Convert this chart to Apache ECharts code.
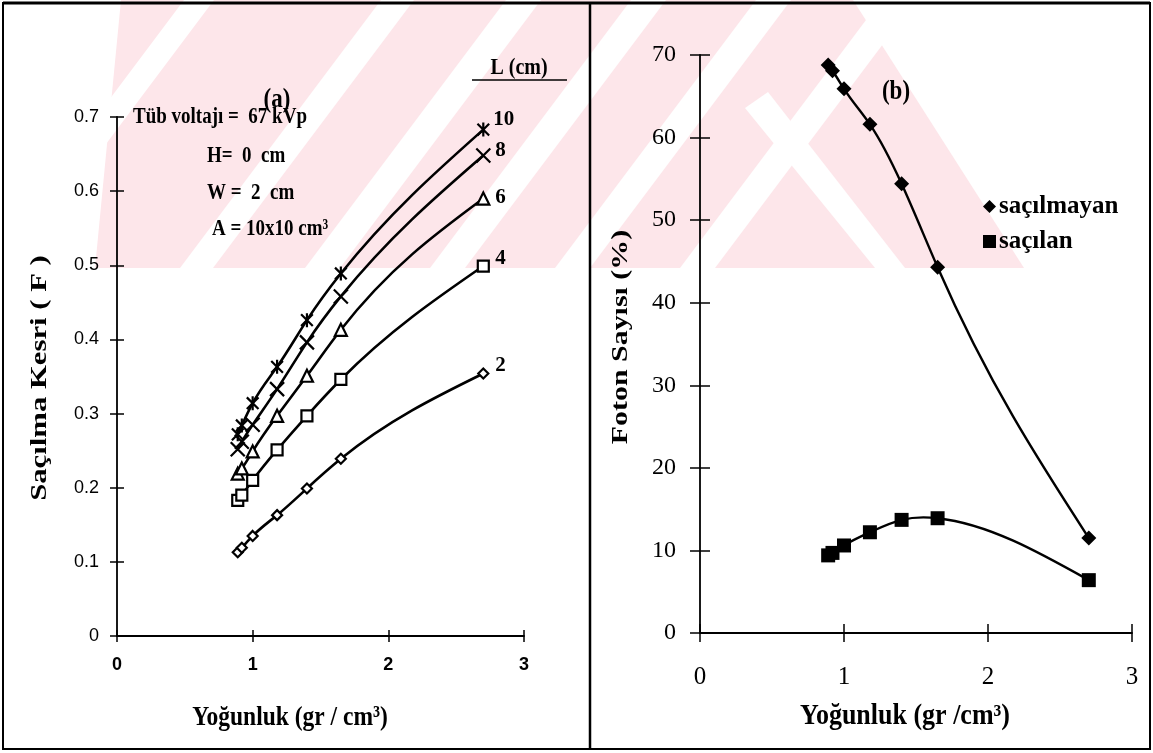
<!DOCTYPE html>
<html>
<head>
<meta charset="utf-8">
<script src="https://cdn.jsdelivr.net/npm/echarts@6/dist/echarts.min.js"></script>
<style>
  html, body { margin: 0; padding: 0; background: #fff; }
  #chart { width: 1153px; height: 753px; }
</style>
</head>
<body>
<div id="chart"></div>
<script>
// yoğunluk (gr/cm3) - iki grafikte de aynı
const density = [0.89, 0.92, 1.0, 1.18, 1.4, 1.65, 2.7];

// (a) saçılma kesri F, her L (cm) için
const F_L2  = [0.113, 0.119, 0.135, 0.163, 0.199, 0.239, 0.354];
const F_L4  = [0.183, 0.190, 0.210, 0.251, 0.297, 0.346, 0.499];
const F_L6  = [0.219, 0.226, 0.249, 0.297, 0.351, 0.413, 0.590];
const F_L8  = [0.252, 0.262, 0.285, 0.333, 0.396, 0.458, 0.648];
const F_L10 = [0.272, 0.284, 0.314, 0.363, 0.426, 0.489, 0.683];

// (b) foton sayısı (%)
const sacilmayan = [68.8, 68.1, 65.9, 61.6, 54.4, 44.3, 11.5];
const sacilan    = [9.4, 9.7, 10.6, 12.2, 13.7, 13.9, 6.4];

// eksen tikleri
const xTicks  = [0, 1, 2, 3];
const yTicksA = [0, 0.1, 0.2, 0.3, 0.4, 0.5, 0.6, 0.7];
const yTicksB = [0, 10, 20, 30, 40, 50, 60, 70];

const serif = 'Liberation Serif';
const sans = 'Liberation Sans';

const pairs = (ys) => density.map((x, i) => [x, ys[i]]);

const chart = echarts.init(document.getElementById('chart'));

const gridA = { left: 117, top: 117, width: 407, height: 519 };
const gridB = { left: 700, top: 55, width: 432, height: 578 };

function xAx(gridIndex, inside, lab, len) {
  return {
    type: 'value', gridIndex: gridIndex,
    min: xTicks[0], max: xTicks[xTicks.length - 1], interval: 1,
    axisLine: { show: !inside, onZero: false, lineStyle: { color: '#000', width: 1.8 } },
    axisTick: { show: true, inside: inside, length: len, lineStyle: { color: '#000', width: 1.5 } },
    axisLabel: inside ? { show: false } : lab,
    splitLine: { show: false }
  };
}
function yAx(gridIndex, ticks, inside, lab, len) {
  return {
    type: 'value', gridIndex: gridIndex, position: 'left',
    min: ticks[0], max: ticks[ticks.length - 1], interval: ticks[1] - ticks[0],
    axisLine: { show: !inside, onZero: false, lineStyle: { color: '#000', width: 1.8 } },
    axisTick: { show: true, inside: inside, length: len, lineStyle: { color: '#000', width: 1.5 } },
    axisLabel: inside ? { show: false } : lab,
    splitLine: { show: false }
  };
}

const labA_x = { color: '#000', fontFamily: sans, fontWeight: 'bold', fontSize: 18, margin: 20 };
const labA_y = { color: '#000', fontFamily: sans, fontSize: 18, margin: 18 };
const labB_x = { color: '#000', fontFamily: serif, fontSize: 25, margin: 32 };
const labB_y = { color: '#000', fontFamily: serif, fontSize: 24, margin: 24 };

// doğal kübik spline: i. parça için bezier kontrol noktaları (piksel uzayında)
function splineSeg(pts, i) {
  const n = pts.length;
  const h = [], M = new Array(n).fill(0);
  for (let k = 0; k < n - 1; k++) h[k] = pts[k + 1][0] - pts[k][0];
  const b = [], c = [], d = [];
  for (let k = 1; k < n - 1; k++) {
    b[k] = 2 * (h[k - 1] + h[k]);
    c[k] = h[k];
    d[k] = 6 * ((pts[k + 1][1] - pts[k][1]) / h[k] - (pts[k][1] - pts[k - 1][1]) / h[k - 1]);
  }
  for (let k = 2; k < n - 1; k++) {
    const w = h[k - 1] / b[k - 1];
    b[k] -= w * c[k - 1];
    d[k] -= w * d[k - 1];
  }
  for (let k = n - 2; k >= 1; k--) M[k] = (d[k] - c[k] * M[k + 1]) / b[k];
  const hi = h[i];
  const s = (pts[i + 1][1] - pts[i][1]) / hi;
  const d0 = s - hi * (2 * M[i] + M[i + 1]) / 6;
  const d1 = s + hi * (M[i] + 2 * M[i + 1]) / 6;
  return {
    x1: pts[i][0], y1: pts[i][1], x2: pts[i + 1][0], y2: pts[i + 1][1],
    cpx1: pts[i][0] + hi / 3, cpy1: pts[i][1] + d0 * hi / 3,
    cpx2: pts[i + 1][0] - hi / 3, cpy2: pts[i + 1][1] - d1 * hi / 3
  };
}

function curveSeries(ys, axisIndex, width) {
  return {
    type: 'custom', xAxisIndex: axisIndex, yAxisIndex: axisIndex,
    data: pairs(ys), encode: { x: 0, y: 1 }, silent: true, z: 3,
    renderItem: function (params, api) {
      const i = params.dataIndex;
      if (i >= density.length - 1) return null;
      const pts = density.map((x, k) => api.coord([x, ys[k]]));
      return { type: 'bezierCurve', shape: splineSeg(pts, i),
               style: { stroke: '#000', lineWidth: width, fill: null } };
    }
  };
}

// sembol şekilleri
const crossPath = 'path://M0,0L10,10M10,0L0,10';
const starPath = 'path://M0,0L10,10M10,0L0,10M5,-1L5,11';

const curveA = [
  { name: '2',  data: F_L2,  symbol: 'diamond',  size: 10, off: [4, -8] },
  { name: '4',  data: F_L4,  symbol: 'rect',     size: 11, off: [4, -7] },
  { name: '6',  data: F_L6,  symbol: 'triangle', size: 12, off: [4, -1] },
  { name: '8',  data: F_L8,  symbol: crossPath,  size: 14, off: [4, -5] },
  { name: '10', data: F_L10, symbol: starPath,   size: 14, off: [2, -10] }
];

const seriesA = [];
curveA.forEach(c => {
  seriesA.push(curveSeries(c.data, 0, 2.6));
  seriesA.push({
    type: 'line', name: c.name, xAxisIndex: 0, yAxisIndex: 0,
    data: pairs(c.data),
    symbol: c.symbol, symbolSize: c.size, symbolKeepAspect: true, showAllSymbol: true,
    lineStyle: { opacity: 0 },
    itemStyle: { color: '#fff', borderColor: '#000', borderWidth: 2.2 },
    endLabel: { show: true, formatter: c.name, offset: c.off, color: '#000',
                fontFamily: serif, fontWeight: 'bold', fontSize: 21 },
    z: 5
  });
});

const curveB = [
  { name: 'saçılmayan', data: sacilmayan, symbol: 'diamond', size: 15 },
  { name: 'saçılan', data: sacilan, symbol: 'rect', size: 14 }
];
const seriesB = [];
curveB.forEach(s => {
  seriesB.push(curveSeries(s.data, 2, 2.4));
  seriesB.push({
    type: 'line', name: s.name, xAxisIndex: 2, yAxisIndex: 2,
    data: pairs(s.data),
    symbol: s.symbol, symbolSize: s.size, showAllSymbol: true,
    lineStyle: { opacity: 0 },
    itemStyle: { color: '#000' },
    z: 5
  });
});

// arka plandaki soluk filigran (üst yarı, çapraz şeritli)
const pink = '#fde6ea';
const wmBottom = 268;
const pinkAreas = [
  [[121, 0], [590, 0], [590, wmBottom], [95, wmBottom]],
  [[590, 0], [853, 0], [1024, wmBottom], [590, wmBottom]]
];
// beyaz şeritler: alt kenardaki x başlangıcı ve genişlik
const stripeStarts = [-17, 180, 305, 430, 555, 680];
const stripeWidths = [30, 33, 35, 35, 35, 35];
const lean = 0.75;

const graphic = [];
pinkAreas.forEach(p => graphic.push({ type: 'polygon', shape: { points: p }, style: { fill: pink }, silent: true, z: -20 }));
stripeStarts.forEach((x0, i) => {
  const w = stripeWidths[i], dx = lean * wmBottom;
  graphic.push({ type: 'polygon', silent: true, z: -19, style: { fill: '#fff' },
    shape: { points: [[x0, wmBottom], [x0 + w, wmBottom], [x0 + w + dx, 0], [x0 + dx, 0]] } });
});
graphic.push({ type: 'polygon', silent: true, z: -19, style: { fill: '#fff' },
  shape: { points: [[745, 108], [768, 92], [905, wmBottom], [875, wmBottom]] } });

function txt(x, y, s, size, extra, align) {
  return Object.assign({
    type: 'text', x: x, y: y, z: 10,
    style: { text: s, fill: '#000', font: 'bold ' + size + 'px "' + serif + '"',
             textAlign: align || 'center', textVerticalAlign: 'middle' }
  }, extra || {});
}

graphic.push(
  // çerçeve
  { type: 'rect', shape: { x: 3, y: 3, width: 1147, height: 746 }, style: { fill: 'none', stroke: '#000', lineWidth: 2 }, z: 10 },
  { type: 'line', shape: { x1: 3, y1: 3, x2: 1150, y2: 3 }, style: { stroke: '#000', lineWidth: 3 }, z: 10 },
  { type: 'line', shape: { x1: 590, y1: 3, x2: 590, y2: 749 }, style: { stroke: '#000', lineWidth: 2.5 }, z: 10 },
  // (a)
  txt(277, 100, '(a)', 23, { scaleY: 1.2 }),
  txt(519, 68, 'L (cm)', 20, { scaleY: 1.15 }),
  { type: 'line', shape: { x1: 472, y1: 80, x2: 567, y2: 80 }, style: { stroke: '#000', lineWidth: 1.5 }, z: 10 },
  txt(133, 117, 'Tüb voltajı =  67 kVp', 19, { scaleY: 1.25 }, 'left'),
  txt(207, 156, 'H=  0  cm', 19, { scaleY: 1.25 }, 'left'),
  txt(207, 193, 'W =  2  cm', 19, { scaleY: 1.25 }, 'left'),
  txt(212, 229, 'A = 10x10 cm³', 19, { scaleY: 1.25 }, 'left'),
  txt(40, 378, 'Saçılma Kesri ( F )', 24, { rotation: Math.PI / 2, scaleX: 1.28 }),
  txt(290, 718, 'Yoğunluk (gr / cm³)', 23.5, { scaleY: 1.2 }),
  // (b)
  txt(896, 92, '(b)', 23, { scaleY: 1.2 }),
  txt(621, 337, 'Foton Sayısı (%)', 23, { rotation: Math.PI / 2, scaleX: 1.3 }),
  txt(905, 716, 'Yoğunluk (gr /cm³)', 26, { scaleY: 1.12 })
);

const option = {
  animation: false,
  backgroundColor: '#fff',
  grid: [gridA, gridA, gridB, gridB],
  xAxis: [xAx(0, false, labA_x, 6), xAx(1, true, null, 6), xAx(2, false, labB_x, 9), xAx(3, true, null, 9)],
  yAxis: [yAx(0, yTicksA, false, labA_y, 7), yAx(1, yTicksA, true, null, 7),
          yAx(2, yTicksB, false, labB_y, 10), yAx(3, yTicksB, true, null, 10)],
  legend: {
    left: 978, top: 189, orient: 'vertical', itemGap: 10,
    itemWidth: 13, itemHeight: 13,
    data: [{ name: 'saçılmayan', icon: 'diamond' }, { name: 'saçılan', icon: 'rect' }],
    textStyle: { color: '#000', fontFamily: serif, fontWeight: 'bold', fontSize: 25, padding: [0, 0, 0, -2] }
  },
  graphic: graphic,
  series: seriesA.concat(seriesB)
};

option && chart.setOption(option);
</script>
</body>
</html>
